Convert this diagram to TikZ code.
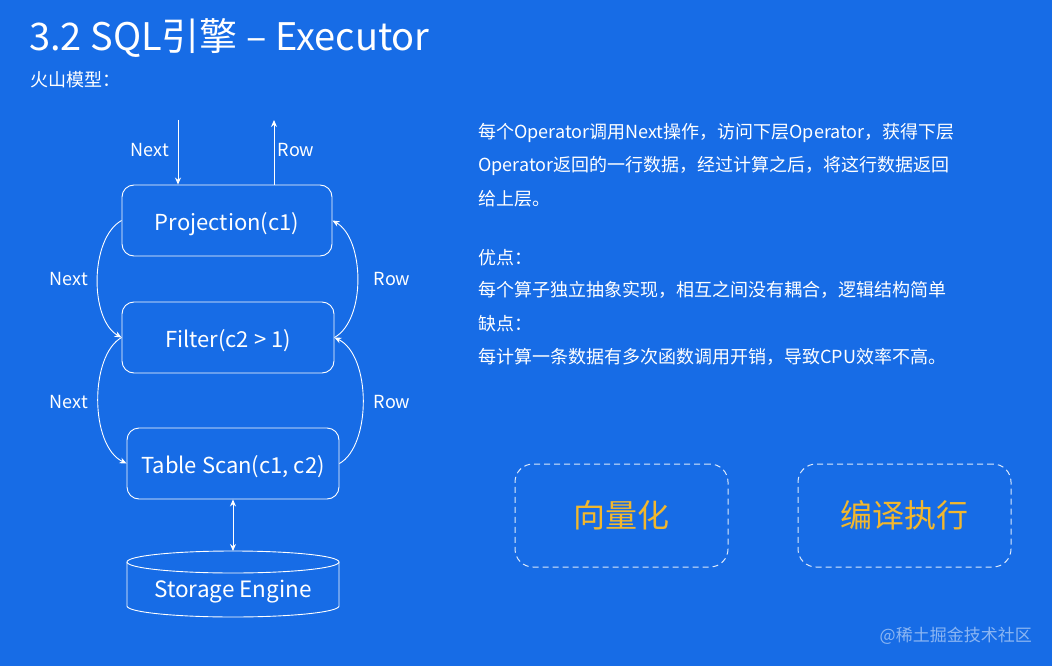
\documentclass[tikz,border=0pt]{standalone}
\usepackage{fontspec}
\setmainfont{Noto Sans CJK SC}
\usetikzlibrary{arrows.meta,calc}
\definecolor{bg}{RGB}{23,108,230}
\definecolor{gold}{RGB}{242,183,45}
\begin{document}
\begin{tikzpicture}[x=1pt,y=-1pt,
  every node/.style={text=white},
  opbox/.style={draw=white, line width=0.9pt, rounded corners=12pt, minimum width=210pt, minimum height=71pt, inner sep=0pt, text height=19pt, text depth=0pt, font=\fontsize{22}{26}\selectfont},
  lbl/.style={font=\fontsize{18}{21}\selectfont, inner sep=0pt},
  para/.style={font=\fontsize{18}{21}\selectfont, inner sep=0pt, anchor=west},
  conn/.style={draw=white, line width=0.9pt, -{Stealth[length=7pt,width=6pt]}},
  dconn/.style={draw=white, line width=0.9pt, {Stealth[length=7pt,width=6pt]}-{Stealth[length=7pt,width=6pt]}},
  idea/.style={draw=white!85!bg, dash pattern=on 6pt off 4pt, line width=1pt, rounded corners=18pt, minimum width=213pt, minimum height=103pt, text=gold, font=\fontsize{32}{36}\selectfont}
]
\fill[bg] (0,0) rectangle (1052,666);

% title
\node[anchor=west, inner sep=0pt, font=\fontsize{38}{44}\selectfont] (title) at (29,38) {3.2 SQL引擎 – Executor};
\node[anchor=west, inner sep=0pt, font=\fontsize{18}{21}\selectfont] (sub) at (30,80) {火山模型：};

% operators
\node[opbox] (P) at (227,220.5) {Projection(c1)};
\node[opbox, minimum width=212pt] (F) at (228,337.5) {Filter(c2 > 1)};
\node[opbox, minimum width=212pt] (T) at (233,463.5) {Table Scan(c1, c2)};

% storage engine cylinder
\node[inner sep=0pt, minimum width=212pt, minimum height=66pt] (S) at (233,584) {};
\node[inner sep=0pt, font=\fontsize{22.5}{26}\selectfont] (Stext) at (233,592) {Storage Engine};
\coordinate (Stop) at (233,551);
\draw[white, line width=0.9pt] (233,562) ellipse [x radius=106, y radius=11];
\draw[white, line width=0.9pt] (127,562) -- (127,606) arc[start angle=180, end angle=0, x radius=106, y radius=11] -- (339,562);

% top arrows
\coordinate (nextin) at (178,120);
\coordinate (rowout) at (274,120);
\draw[conn] (nextin) -- (nextin |- P.north);
\draw[conn] (rowout |- P.north) -- (rowout);
\node[lbl] (n0) at (150,150) {Next};
\node[lbl] (r0) at (296,150) {Row};

% curved connectors
\draw[conn] (P.west) .. controls +(-32,18) and +(-32,-18) .. (F.west);
\draw[conn] (F.east) .. controls +(32,-18) and +(32,18) .. (P.east);
\draw[conn] (F.west) .. controls +(-32,18) and +(-37,-18) .. (T.west);
\draw[conn] (T.east) .. controls +(32,-18) and +(37,18) .. (F.east);
\node[lbl] (n1) at (69,279) {Next};
\node[lbl] (r1) at (392,279) {Row};
\node[lbl] (n2) at (69,402) {Next};
\node[lbl] (r2) at (392,402) {Row};

\draw[dconn] (T.south) -- (Stop);

% description
\node[para] (t1) at (478,133) {每个Operator调用Next操作，访问下层Operator，获得下层};
\node[para] (t2) at (478,166) {Operator返回的一行数据，经过计算之后，将这行数据返回};
\node[para] (t3) at (478,199) {给上层。};
\node[para] (t4) at (478,258) {优点：};
\node[para] (t5) at (478,290) {每个算子独立抽象实现，相互之间没有耦合，逻辑结构简单};
\node[para] (t6) at (478,324) {缺点：};
\node[para] (t7) at (478,357) {每计算一条数据有多次函数调用开销，导致CPU效率不高。};

% ideas
\node[idea] (V) at (621.5,515.5) {向量化};
\node[idea] (C) at (904.5,515.5) {编译执行};

% watermark
\node[anchor=east, inner sep=0pt, text=white, text opacity=0.5, font=\fontsize{17}{20}\selectfont] (wm) at (1032,636) {@稀土掘金技术社区};
\end{tikzpicture}
\end{document}
